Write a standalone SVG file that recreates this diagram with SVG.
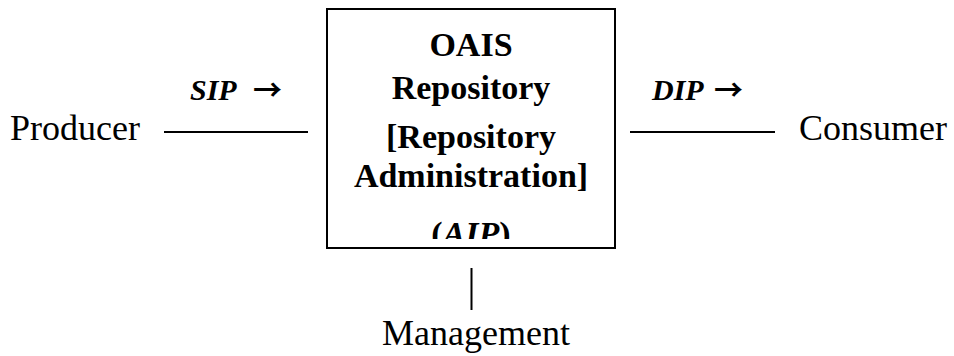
<svg xmlns="http://www.w3.org/2000/svg" width="954" height="356" viewBox="0 0 954 356">
<style>
  text { font-family: "Liberation Serif", "Times New Roman", serif; fill: #000; }
  .lbl { font-size: 36px; }
  .flow { font-size: 30px; font-weight: bold; font-style: italic; }
  .arr { font-family: "Noto Sans CJK JP", "DejaVu Sans", sans-serif; font-style: normal; font-weight: bold; font-size: 29px; }
  .box-t { font-size: 34px; font-weight: bold; text-anchor: middle; }
  .conn { stroke: #000; stroke-width: 2; fill: none; }
  .box { stroke: #000; stroke-width: 2; fill: #fff; }
</style>
<defs>
  <clipPath id="boxclip"><rect x="328" y="10" width="286" height="229"/></clipPath>
</defs>
<rect width="954" height="356" fill="#fff"/>
<g id="connectors">
  <line class="conn" x1="164" y1="132" x2="308" y2="132"/>
  <line class="conn" x1="630" y1="132" x2="775" y2="132"/>
  <line class="conn" x1="471.5" y1="268" x2="471.5" y2="310"/>
</g>
<g id="flow-labels">
  <text class="flow" x="190" y="100">SIP<tspan class="arr" x="253" y="101">→</tspan></text>
  <text class="flow" x="652" y="100">DIP<tspan class="arr" x="714" y="101">→</tspan></text>
</g>
<g id="producer">
  <text class="lbl" x="10" y="140">Producer</text>
</g>
<g id="consumer">
  <text class="lbl" x="799" y="140">Consumer</text>
</g>
<g id="management">
  <text class="lbl" x="476" y="345" text-anchor="middle">Management</text>
</g>
<g id="repository">
  <rect class="box" x="327" y="9" width="288" height="239"/>
  <g clip-path="url(#boxclip)">
    <text class="box-t" x="471" y="56">OAIS</text>
    <text class="box-t" x="471" y="99">Repository</text>
    <text class="box-t" x="471" y="148">[Repository</text>
    <text class="box-t" x="471" y="187">Administration]</text>
    <text class="box-t" x="471" y="245">(<tspan font-style="italic">AIP</tspan>)</text>
  </g>
</g>
</svg>
